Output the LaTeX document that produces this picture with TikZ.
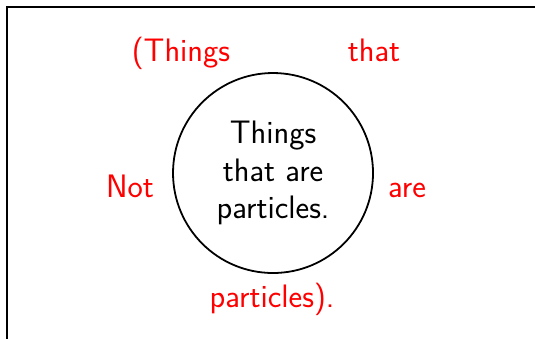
\documentclass[tikz,border=0pt]{standalone}
\usepackage{tikz}

\begin{document}
\begin{tikzpicture}[font=\fontsize{17.28}{19.85}\selectfont\sffamily, x=1cm, y=1cm,
    outside/.style={red, anchor=base, inner sep=0pt},
    inside/.style={circle, draw, line width=0.95pt, minimum size=3.738cm, align=center, inner sep=0pt}]
    \useasboundingbox (0,0) rectangle (10,6.318);
    \clip (0,0) rectangle (10,6.318);
    \draw[line width=1.2pt] (0.131,-1) -- (0.131,6.187) -- (11,6.187);

    \node[inside] (particles) at (5.103,3.084) {Things\\that are\\particles.};

    \node[outside] (things) at (3.383,5.159) {(Things};
    \node[outside] (that) at (6.991,5.159) {that};
    \node[outside] (not) at (2.430,2.617) {Not};
    \node[outside] (are) at (7.607,2.617) {are};
    \node[outside] (part) at (5.084,0.579) {particles).};
\end{tikzpicture}
\end{document}
